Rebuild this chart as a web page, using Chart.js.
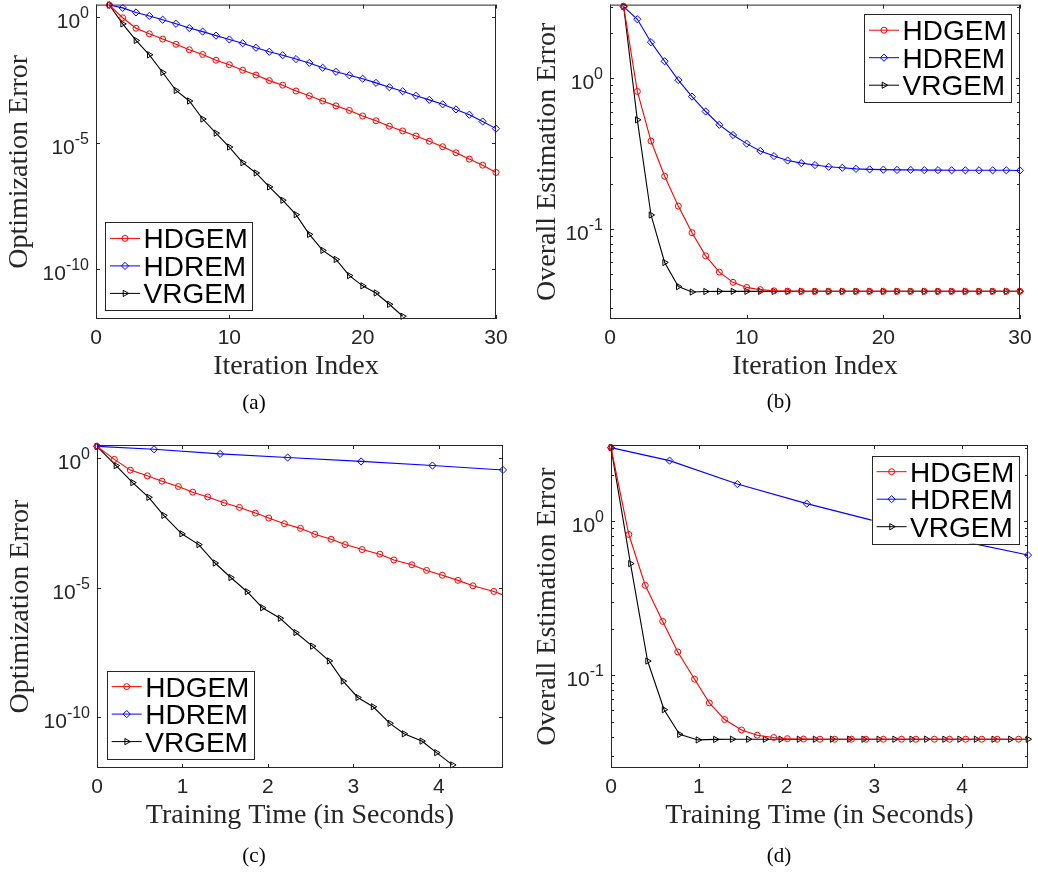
<!DOCTYPE html>
<html>
<head>
<meta charset="utf-8">
<script src="https://cdn.jsdelivr.net/npm/chart.js@4.4.1/dist/chart.umd.min.js"></script>
<style>
  html, body { margin: 0; padding: 0; background: #fff; }
  #page { position: relative; width: 1038px; height: 873px; overflow: hidden; }
  #page canvas { position: absolute; }
</style>
</head>
<body>
<div id="page">
  <canvas id="chart-a" width="519" height="430" style="left:0;top:0"></canvas>
  <canvas id="chart-b" width="519" height="430" style="left:519px;top:0"></canvas>
  <canvas id="chart-c" width="519" height="443" style="left:0;top:430px"></canvas>
  <canvas id="chart-d" width="519" height="443" style="left:519px;top:430px"></canvas>
</div>
<script>
// ---- data ----
const seriesNames = ['HDGEM', 'HDREM', 'VRGEM'];
const iterations = [1, 2, 3, 4, 5, 6, 7, 8, 9, 10, 11, 12, 13, 14, 15,
  16, 17, 18, 19, 20, 21, 22, 23, 24, 25, 26, 27, 28, 29, 30];

// optimization error per iteration
const optHDGEM = [2.9, 0.91, 0.35, 0.21, 0.13, 8.1e-2, 4.9e-2, 3.2e-2, 1.9e-2, 1.26e-2,
  7.6e-3, 4.9e-3, 2.95e-3, 1.95e-3, 1.15e-3, 7.4e-4, 4.6e-4, 2.95e-4, 1.95e-4, 1.17e-4,
  7.6e-5, 4.6e-5, 3.0e-5, 1.9e-5, 1.17e-5, 7.1e-6, 4.1e-6, 2.3e-6, 1.32e-6, 6.8e-7];
const optHDREM = [2.9, 2.24, 1.48, 1.07, 0.76, 0.525, 0.355, 0.257, 0.178, 0.126,
  8.9e-2, 5.9e-2, 4.1e-2, 3.0e-2, 2.1e-2, 1.48e-2, 9.5e-3, 6.6e-3, 4.8e-3, 3.5e-3,
  2.4e-3, 1.62e-3, 1.12e-3, 7.4e-4, 5.1e-4, 3.4e-4, 2.14e-4, 1.32e-4, 7.1e-5, 3.7e-5];
const optVRGEM = [2.9, 0.52, 0.115, 3.1e-2, 6.2e-3, 1.2e-3, 4.6e-4, 8.9e-5, 2.45e-5, 6.9e-6,
  1.66e-6, 6.5e-7, 1.82e-7, 5.4e-8, 1.45e-8, 2.4e-9, 5.6e-10, 2.45e-10, 5.6e-11, 2.2e-11,
  1.15e-11, 4.1e-12, 1.38e-12];

// overall estimation error per iteration
const estHDGEM = [3.0, 0.82, 0.384, 0.224, 0.142, 0.0946, 0.0664, 0.0518, 0.0443, 0.041,
  0.0396, 0.0389, 0.0387, 0.0386, 0.0386, 0.0386, 0.0386, 0.0386, 0.0386, 0.0386,
  0.0386, 0.0386, 0.0386, 0.0386, 0.0386, 0.0386, 0.0386, 0.0386, 0.0386, 0.0386];
const estHDREM = [3.0, 2.47, 1.74, 1.30, 0.975, 0.757, 0.603, 0.492, 0.421, 0.369,
  0.330, 0.305, 0.285, 0.274, 0.266, 0.259, 0.255, 0.251, 0.249, 0.248,
  0.247, 0.247, 0.246, 0.246, 0.2455, 0.2455, 0.2455, 0.2455, 0.2455, 0.245];
const estVRGEM = [3.0, 0.531, 0.124, 0.060, 0.0415, 0.0382, 0.0385, 0.0386, 0.0386, 0.0386,
  0.0386, 0.0386, 0.0386, 0.0386, 0.0386, 0.0386, 0.0386, 0.0386, 0.0386, 0.0386,
  0.0386, 0.0386, 0.0386, 0.0386, 0.0386, 0.0386, 0.0386, 0.0386, 0.0386, 0.0386];

// training time (s) at each iteration
const timeHDGEM = [0, 0.203, 0.390, 0.589, 0.761, 0.952, 1.120, 1.295, 1.487, 1.666,
  1.853, 2.009, 2.193, 2.380, 2.548, 2.739, 2.903, 3.102, 3.309, 3.473,
  3.684, 3.856, 4.040, 4.223, 4.398, 4.643, 4.83];
const timeHDREM = [0, 0.667, 1.44, 2.23, 3.09, 3.925, 4.75];
const timeVRGEM = [0, 0.222, 0.417, 0.605, 0.780, 0.991, 1.190, 1.381, 1.565, 1.756,
  1.935, 2.142, 2.325, 2.520, 2.716, 2.879, 3.051, 3.231, 3.426, 3.593,
  3.800, 3.972, 4.159, 4.36, 4.55, 4.75];

// tick labels
const iterTicks = [0, 10, 20, 30];
const timeTicks = [0, 1, 2, 3, 4];
const optTicks = [1e-10, 1e-5, 1];
const estTicks = [0.1, 1];

// ---- styles ----
const SANS = '"Liberation Sans", Arial, sans-serif';
const SERIF = '"Liberation Serif", "Times New Roman", serif';
const AXIS_COLOR = '#262626';
const STYLES = {
  HDGEM: { color: '#ff0000', pointStyle: 'circle', radius: 3, rotation: 0 },
  HDREM: { color: '#0000ff', pointStyle: 'rectRot', radius: 3.6, rotation: 0 },
  VRGEM: { color: '#000000', pointStyle: 'triangle', radius: 3.6, rotation: 90 }
};

function series(name, xs, ys, clip) {
  const s = STYLES[name];
  const n = Math.min(xs.length, ys.length);
  const data = [];
  for (let i = 0; i < n; i++) data.push({ x: xs[i], y: ys[i] });
  return {
    label: name,
    data,
    borderColor: s.color,
    borderWidth: 1.1,
    pointStyle: s.pointStyle,
    pointRadius: s.radius,
    pointRotation: s.rotation,
    pointBorderColor: s.color,
    pointBackgroundColor: 'rgba(255,255,255,0)',
    pointBorderWidth: 1,
    pointHoverRadius: s.radius,
    fill: false,
    tension: 0,
    clip: clip === undefined ? 8 : clip
  };
}

// legend marker (same shapes as the data markers)
function drawMarker(ctx, name, x, y) {
  const s = STYLES[name];
  const r = s.radius;
  ctx.beginPath();
  if (s.pointStyle === 'circle') {
    ctx.arc(x, y, r, 0, Math.PI * 2);
  } else if (s.pointStyle === 'rectRot') {
    ctx.moveTo(x, y - r); ctx.lineTo(x + r, y); ctx.lineTo(x, y + r); ctx.lineTo(x - r, y);
    ctx.closePath();
  } else {
    // triangle pointing right
    const a = [0, 2 * Math.PI / 3, 4 * Math.PI / 3];
    a.forEach((t, i) => {
      const px = x + r * Math.cos(t), py = y + r * Math.sin(t);
      if (i === 0) ctx.moveTo(px, py); else ctx.lineTo(px, py);
    });
    ctx.closePath();
  }
  ctx.strokeStyle = s.color;
  ctx.lineWidth = 1;
  ctx.stroke();
}

function drawPow(ctx, exp, xRight, yTick) {
  const base = '10';
  const sup = String(exp);
  ctx.font = '16px ' + SANS;
  const wSup = ctx.measureText(sup).width;
  ctx.font = '21px ' + SANS;
  const wBase = ctx.measureText(base).width;
  ctx.textAlign = 'left';
  ctx.textBaseline = 'alphabetic';
  ctx.fillText(base, xRight - wSup - wBase, yTick + 11);
  ctx.font = '16px ' + SANS;
  ctx.fillText(sup, xRight - wSup, yTick + 1);
}

// MATLAB-like axes box, inward ticks, labels, caption, legend
const axesDecor = {
  id: 'axesDecor',
  afterDraw(chart, args, o) {
    const { ctx, chartArea: a } = chart;
    const xs = chart.scales.x, ys = chart.scales.y;
    const tl = 4;
    ctx.save();
    ctx.strokeStyle = AXIS_COLOR;
    ctx.lineWidth = 1;
    ctx.strokeRect(a.left + 0.5, a.top + 0.5, a.right - a.left - 1, a.bottom - a.top - 1);

    ctx.beginPath();
    o.xTicks.forEach(v => {
      const px = Math.round(xs.getPixelForValue(v)) + 0.5;
      ctx.moveTo(px, a.bottom); ctx.lineTo(px, a.bottom - tl);
      ctx.moveTo(px, a.top); ctx.lineTo(px, a.top + tl);
    });
    o.yTicks.forEach(v => {
      const py = Math.round(ys.getPixelForValue(v)) + 0.5;
      ctx.moveTo(a.left, py); ctx.lineTo(a.left + tl, py);
      ctx.moveTo(a.right, py); ctx.lineTo(a.right - tl, py);
    });
    if (o.minor) {
      const lo = Math.floor(Math.log10(ys.min)), hi = Math.ceil(Math.log10(ys.max));
      for (let d = lo; d <= hi; d++) {
        for (let m = 2; m <= 9; m++) {
          const v = m * Math.pow(10, d);
          if (v < ys.min || v > ys.max) continue;
          const py = Math.round(ys.getPixelForValue(v)) + 0.5;
          ctx.moveTo(a.left, py); ctx.lineTo(a.left + tl - 1, py);
          ctx.moveTo(a.right, py); ctx.lineTo(a.right - tl + 1, py);
        }
      }
    }
    ctx.stroke();

    // tick labels
    ctx.fillStyle = AXIS_COLOR;
    ctx.font = '21px ' + SANS;
    ctx.textAlign = 'center';
    ctx.textBaseline = 'alphabetic';
    o.xTicks.forEach(v => {
      ctx.fillText(String(v), xs.getPixelForValue(v), a.bottom + 25);
    });
    o.yTicks.forEach(v => {
      drawPow(ctx, Math.round(Math.log10(v)), a.left - 7, ys.getPixelForValue(v));
    });

    // axis titles
    ctx.font = '28px ' + SERIF;
    ctx.textAlign = 'center';
    ctx.textBaseline = 'alphabetic';
    ctx.fillText(o.xTitle, (a.left + a.right) / 2, a.bottom + 54.5);
    ctx.save();
    ctx.translate(a.left - o.yTitleOffset, (a.top + a.bottom) / 2);
    ctx.rotate(-Math.PI / 2);
    ctx.fillText(o.yTitle, 0, 0);
    ctx.restore();

    // caption
    ctx.fillStyle = '#000';
    ctx.font = '21px ' + SERIF;
    ctx.fillText(o.caption, o.captionX, o.captionY);

    // legend
    const lw = 147, lh = 88;
    const lx = o.legendSide === 'left' ? a.left + o.legendDx : a.right - o.legendDx - lw;
    const ly = o.legendVert === 'top' ? a.top + o.legendDy : a.bottom - o.legendDy - lh;
    ctx.fillStyle = '#fff';
    ctx.fillRect(lx, ly, lw, lh);
    ctx.strokeStyle = '#262626';
    ctx.lineWidth = 1;
    ctx.strokeRect(Math.round(lx) + 0.5, Math.round(ly) + 0.5, lw, lh);
    const rows = [16, 43.5, 71];
    seriesNames.forEach((name, i) => {
      const yy = ly + rows[i];
      ctx.beginPath();
      ctx.moveTo(lx + 5, yy); ctx.lineTo(lx + 35, yy);
      ctx.strokeStyle = STYLES[name].color;
      ctx.lineWidth = 1;
      ctx.stroke();
      drawMarker(ctx, name, lx + 20, yy);
      ctx.fillStyle = '#000';
      ctx.font = '28px ' + SANS;
      ctx.textAlign = 'left';
      ctx.textBaseline = 'alphabetic';
      ctx.fillText(name, lx + 38.5, yy + 10);
    });
    ctx.restore();
  }
};

function makePanel(id, datasets, padding, xMax, yMin, yMax, decor) {
  return new Chart(document.getElementById(id), {
    type: 'line',
    data: { datasets },
    options: {
      responsive: false,
      animation: false,
      events: [],
      layout: { padding },
      plugins: {
        legend: { display: false },
        tooltip: { enabled: false },
        axesDecor: decor
      },
      scales: {
        x: { type: 'linear', display: false, min: 0, max: xMax },
        y: { type: 'logarithmic', display: false, min: yMin, max: yMax }
      }
    },
    plugins: [axesDecor]
  });
}

const clipRightEdge = { left: 8, top: 8, right: 0, bottom: 0 };

// (a) optimization error vs iteration
makePanel('chart-a', [
  series('HDGEM', iterations, optHDGEM),
  series('HDREM', iterations, optHDREM),
  series('VRGEM', iterations, optVRGEM)
], { left: 96, top: 3, right: 23, bottom: 111 }, 30, Math.pow(10, -11.97), Math.pow(10, 0.48), {
  xTicks: iterTicks, yTicks: optTicks, minor: false,
  xTitle: 'Iteration Index', yTitle: 'Optimization Error', yTitleOffset: 69,
  caption: '(a)', captionX: 254, captionY: 409,
  legendSide: 'left', legendVert: 'bottom', legendDx: 9, legendDy: 8.6
});

// (b) estimation error vs iteration
makePanel('chart-b', [
  series('HDGEM', iterations, estHDGEM),
  series('HDREM', iterations, estHDREM),
  series('VRGEM', iterations, estVRGEM)
], { left: 91, top: 3, right: 18, bottom: 111 }, 30, Math.pow(10, -1.597), Math.pow(10, 0.49), {
  xTicks: iterTicks, yTicks: estTicks, minor: true,
  xTitle: 'Iteration Index', yTitle: 'Overall Estimation Error', yTitleOffset: 55,
  caption: '(b)', captionX: 260, captionY: 408,
  legendSide: 'right', legendVert: 'top', legendDx: 9, legendDy: 9.6
});

// (c) optimization error vs training time
makePanel('chart-c', [
  series('HDGEM', timeHDGEM, optHDGEM, clipRightEdge),
  series('HDREM', timeHDREM, optHDREM),
  series('VRGEM', timeVRGEM, optVRGEM)
], { left: 97, top: 15, right: 16, bottom: 105 }, 4.75, Math.pow(10, -11.98), Math.pow(10, 0.515), {
  xTicks: timeTicks, yTicks: optTicks, minor: false,
  xTitle: 'Training Time (in Seconds)', yTitle: 'Optimization Error', yTitleOffset: 69.5,
  caption: '(c)', captionX: 254, captionY: 432,
  legendSide: 'left', legendVert: 'bottom', legendDx: 9.7, legendDy: 9.4
});

// (d) estimation error vs training time
makePanel('chart-d', [
  series('HDGEM', timeHDGEM, estHDGEM, clipRightEdge),
  series('HDREM', timeHDREM, estHDREM),
  series('VRGEM', timeVRGEM, estVRGEM)
], { left: 92, top: 15, right: 10, bottom: 105 }, 4.75, Math.pow(10, -1.60), Math.pow(10, 0.494), {
  xTicks: timeTicks, yTicks: estTicks, minor: true,
  xTitle: 'Training Time (in Seconds)', yTitle: 'Overall Estimation Error', yTitleOffset: 56,
  caption: '(d)', captionX: 260, captionY: 432,
  legendSide: 'right', legendVert: 'top', legendDx: 9.4, legendDy: 10.7
});
</script>
</body>
</html>
